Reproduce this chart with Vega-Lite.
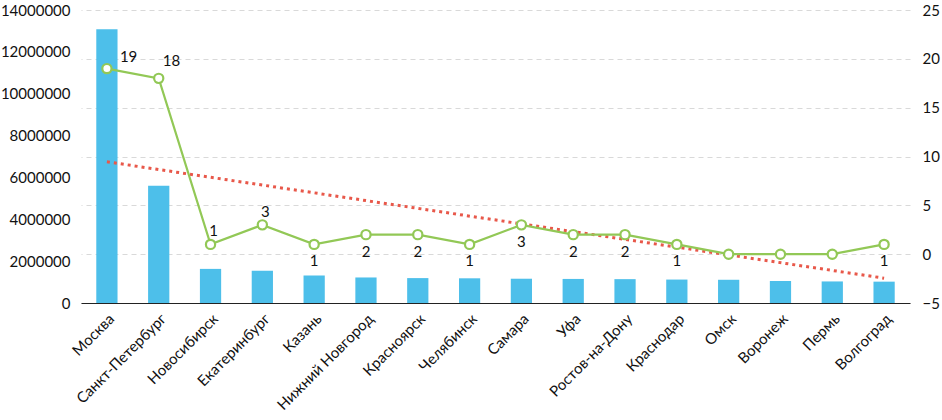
{
  "$schema": "https://vega.github.io/schema/vega-lite/v6.json",
  "autosize": "none",
  "width": 829,
  "height": 293,
  "padding": {"left": 81, "top": 10, "right": 32, "bottom": 117},
  "background": "white",
  "config": {
    "view": {"stroke": null},
    "axis": {"labelFont": "Lato", "labelFontSize": 15, "labelColor": "#111111", "titleFont": "Lato"},
    "text": {"font": "Lato", "fontSize": 15, "fill": "#111111"}
  },
  "datasets": {
    "cities": [
      {"city": "Москва", "pop": 13080000, "val": 19},
      {"city": "Санкт-Петербург", "pop": 5600000, "val": 18},
      {"city": "Новосибирск", "pop": 1630000, "val": 1},
      {"city": "Екатеринбург", "pop": 1540000, "val": 3},
      {"city": "Казань", "pop": 1310000, "val": 1},
      {"city": "Нижний Новгород", "pop": 1220000, "val": 2},
      {"city": "Красноярск", "pop": 1190000, "val": 2},
      {"city": "Челябинск", "pop": 1180000, "val": 1},
      {"city": "Самара", "pop": 1160000, "val": 3},
      {"city": "Уфа", "pop": 1150000, "val": 2},
      {"city": "Ростов-на-Дону", "pop": 1140000, "val": 2},
      {"city": "Краснодар", "pop": 1120000, "val": 1},
      {"city": "Омск", "pop": 1110000, "val": 0},
      {"city": "Воронеж", "pop": 1050000, "val": 0},
      {"city": "Пермь", "pop": 1030000, "val": 0},
      {"city": "Волгоград", "pop": 1020000, "val": 1}
    ],
    "trend": [
      {"from": "Москва", "to": "Волгоград", "start": 9.46, "end": -2.46}
    ]
  },
  "data": {"name": "cities"},
  "resolve": {"scale": {"y": "independent"}},
  "layer": [
    {
      "mark": {"type": "bar", "color": "#4DBFEA"},
      "encoding": {
        "x": {
          "field": "city", "type": "nominal", "sort": null,
          "scale": {"paddingInner": 0.59, "paddingOuter": 0.295},
          "axis": {"title": null, "labelAngle": -45, "ticks": false, "domainColor": "#222222", "domainWidth": 1.2, "labelPadding": 8, "labelLimit": 200}
        },
        "y": {
          "field": "pop", "type": "quantitative",
          "scale": {"domain": [0, 14000000], "nice": false},
          "axis": {"title": null, "orient": "left", "grid": false, "domain": false, "ticks": false, "format": "d", "labelPadding": 11,
                   "values": [0, 2000000, 4000000, 6000000, 8000000, 10000000, 12000000, 14000000]}
        }
      }
    },
    {
      "layer": [
        {
          "data": {"name": "trend"},
          "mark": {"type": "rule", "color": "#E8584A", "strokeWidth": 3, "strokeDash": [3, 4]},
          "encoding": {
            "x": {"field": "from", "type": "nominal", "sort": null},
            "x2": {"field": "to"},
            "y": {"field": "start", "type": "quantitative"},
            "y2": {"field": "end"}
          }
        },
        {
          "mark": {"type": "line", "color": "#92C856", "strokeWidth": 2.2},
          "encoding": {
            "x": {"field": "city", "type": "nominal", "sort": null},
            "y": {"field": "val", "type": "quantitative"}
          }
        },
        {
          "mark": {"type": "point", "filled": true, "fill": "white", "stroke": "#92C856", "strokeWidth": 2.2, "size": 85, "opacity": 1},
          "encoding": {
            "x": {"field": "city", "type": "nominal", "sort": null},
            "y": {"field": "val", "type": "quantitative"}
          }
        },
        {
          "transform": [{"filter": {"field": "city", "equal": "Москва"}}],
          "mark": {"type": "text", "align": "left", "baseline": "middle", "dx": 13, "dy": -12},
          "encoding": {
            "x": {"field": "city", "type": "nominal", "sort": null},
            "y": {"field": "val", "type": "quantitative"},
            "text": {"field": "val"}
          }
        },
        {
          "transform": [{"filter": {"field": "city", "equal": "Санкт-Петербург"}}],
          "mark": {"type": "text", "align": "left", "baseline": "middle", "dx": 4, "dy": -17},
          "encoding": {
            "x": {"field": "city", "type": "nominal", "sort": null},
            "y": {"field": "val", "type": "quantitative"},
            "text": {"field": "val"}
          }
        },
        {
          "transform": [{"filter": {"field": "city", "oneOf": ["Новосибирск", "Екатеринбург"]}}],
          "mark": {"type": "text", "align": "center", "baseline": "middle", "dx": 3, "dy": -13},
          "encoding": {
            "x": {"field": "city", "type": "nominal", "sort": null},
            "y": {"field": "val", "type": "quantitative"},
            "text": {"field": "val"}
          }
        },
        {
          "transform": [{"filter": {"field": "city", "oneOf": ["Казань", "Нижний Новгород", "Красноярск", "Челябинск", "Самара", "Уфа", "Ростов-на-Дону", "Краснодар", "Волгоград"]}}],
          "mark": {"type": "text", "align": "center", "baseline": "middle", "dy": 17},
          "encoding": {
            "x": {"field": "city", "type": "nominal", "sort": null},
            "y": {"field": "val", "type": "quantitative"},
            "text": {"field": "val"}
          }
        }
      ],
      "encoding": {
        "y": {
          "type": "quantitative",
          "scale": {"domain": [-5, 25], "nice": false},
          "axis": {"title": null, "orient": "right", "grid": true, "gridColor": "#D9D9D9", "gridDash": [5, 4], "gridWidth": 1,
                   "domain": false, "ticks": false, "labelPadding": 12, "values": [-5, 0, 5, 10, 15, 20, 25]}
        }
      }
    }
  ]
}
